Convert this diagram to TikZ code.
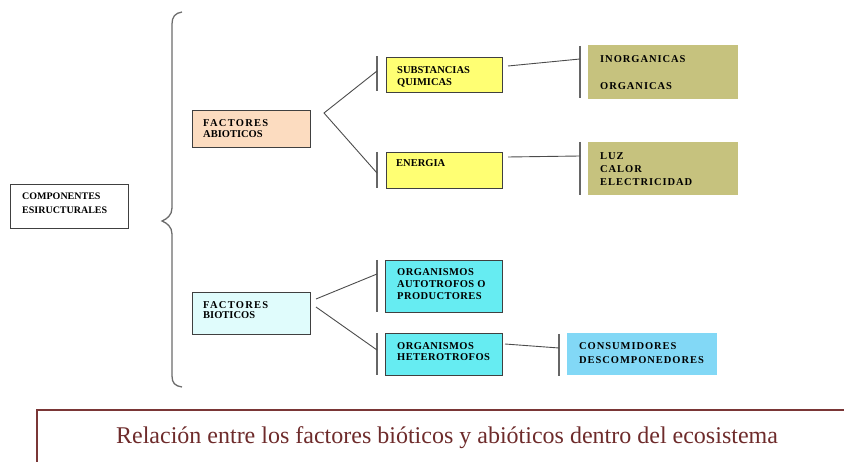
\documentclass[tikz,border=0pt]{standalone}
\usepackage{fontspec}
\setmainfont{Liberation Serif}
\newfontfamily\lsA{Liberation Serif}[LetterSpace=4]
\newfontfamily\lsB{Liberation Serif}[LetterSpace=9]
\newfontfamily\lsC{Liberation Serif}[LetterSpace=12]
\definecolor{boxline}{HTML}{404040}
\definecolor{peach}{HTML}{FCDCC0}
\definecolor{palecyan}{HTML}{E0FCFC}
\definecolor{yel}{HTML}{FFFF73}
\definecolor{cya}{HTML}{66ECF2}
\definecolor{oliv}{HTML}{C6C27E}
\definecolor{sky}{HTML}{82D8F6}
\definecolor{maroon}{HTML}{7A3636}
\definecolor{captxt}{HTML}{6E2B2B}
\tikzset{
  framebox/.style={draw=boxline, line width=1pt, inner sep=0pt, anchor=north west},
  flatbox/.style={draw=none, inner sep=0pt, anchor=north west},
  lbl/.style={anchor=north west, inner sep=0pt, align=left},
  bar/.style={draw=gray!80!black, line width=1.4pt},
  conn/.style={draw=black!70, line width=0.9pt},
  bracestyle/.style={draw=gray!85!black, line width=1.3pt}
}
\begin{document}
\begin{tikzpicture}[x=1pt,y=-1pt]
\useasboundingbox (0,0) rectangle (844,462);
% boxes
\node[framebox, fill=white, minimum width=118pt, minimum height=44pt] (comp) at (10,184) {};
\node[framebox, fill=peach, minimum width=118pt, minimum height=37pt] (abio) at (192,110) {};
\node[framebox, fill=palecyan, minimum width=118pt, minimum height=42pt] (bio) at (192,292) {};
\node[framebox, fill=yel, minimum width=116pt, minimum height=35pt] (subs) at (386,57) {};
\node[framebox, fill=yel, minimum width=116pt, minimum height=36pt] (ener) at (386,152) {};
\node[framebox, fill=cya, minimum width=117pt, minimum height=52pt] (auto) at (385,260) {};
\node[framebox, fill=cya, minimum width=117pt, minimum height=42pt] (hete) at (385,333) {};
\node[flatbox, fill=oliv, minimum width=150pt, minimum height=54pt] (inorg) at (588,45) {};
\node[flatbox, fill=oliv, minimum width=150pt, minimum height=53pt] (luz) at (588,142) {};
\node[flatbox, fill=sky, minimum width=150pt, minimum height=42pt] (cons) at (567,333) {};
% texts
\node[lbl, font=\fontsize{10}{13.5}\selectfont\bfseries] (tcomp) at (22,193) {COMPONENTES\\ESIRUCTURALES};
\node[lbl, font=\fontsize{10.5}{10.8}\selectfont\bfseries] (tabio) at (203,119.5) {{\lsC FACTORES}\\ABIOTICOS};
\node[lbl, font=\fontsize{10.5}{10.5}\selectfont\bfseries] (tbio) at (203,301) {{\lsC FACTORES}\\BIOTICOS};
\node[lbl, font=\fontsize{10.5}{12}\selectfont\bfseries] (tsubs) at (397,66) {SUBSTANCIAS\\QUIMICAS};
\node[lbl, font=\fontsize{10.5}{12}\selectfont\bfseries] (tener) at (396,159.5) {ENERGIA};
\node[lbl, font=\lsB\fontsize{10.5}{26.7}\selectfont\bfseries] (tinorg) at (600,55.5) {INORGANICAS\\ORGANICAS};
\node[lbl, font=\lsB\fontsize{10.5}{13.4}\selectfont\bfseries] (tluz) at (600,152) {LUZ\\CALOR\\ELECTRICIDAD};
\node[lbl, font=\lsA\fontsize{10.5}{12.2}\selectfont\bfseries] (tauto) at (397,268) {ORGANISMOS\\AUTOTROFOS O\\PRODUCTORES};
\node[lbl, font=\lsA\fontsize{10.5}{11.7}\selectfont\bfseries] (thete) at (397,342) {ORGANISMOS\\HETEROTROFOS};
\node[lbl, font=\lsB\fontsize{10.5}{14}\selectfont\bfseries] (tcons) at (579,342.5) {CONSUMIDORES\\DESCOMPONEDORES};
% bars
\coordinate (suT) at (377,56.5); \coordinate (suB) at (377,91);
\coordinate (enT) at (377,152); \coordinate (enB) at (377,188);
\coordinate (auT) at (377,260); \coordinate (auB) at (377,312);
\coordinate (heT) at (377,333); \coordinate (heB) at (377,375);
\coordinate (inT) at (580,46); \coordinate (inB) at (580,98);
\coordinate (luT) at (580,142); \coordinate (luB) at (580,195);
\coordinate (coT) at (559,334); \coordinate (coB) at (559,376);
\draw[bar] (suT) -- (suB);
\draw[bar] (enT) -- (enB);
\draw[bar] (auT) -- (auB);
\draw[bar] (heT) -- (heB);
\draw[bar] (inT) -- (inB);
\draw[bar] (luT) -- (luB);
\draw[bar] (coT) -- (coB);
% connector end points
\coordinate (apexA) at (324,113);
\coordinate (suIn) at (377,71);
\coordinate (enIn) at (377,173);
\coordinate (bioOut1) at (316,299);
\coordinate (bioOut2) at (316,307);
\coordinate (auIn) at (377,274);
\coordinate (heIn) at (377,350);
\coordinate (suOut) at (508,66);
\coordinate (inIn) at (580,59);
\coordinate (enOut) at (508,157);
\coordinate (luIn) at (580,156);
\coordinate (heOut) at (505,344);
\coordinate (coIn) at (559,348);
\draw[conn] (suIn) -- (apexA) -- (enIn);
\draw[conn] (bioOut1) -- (auIn);
\draw[conn] (bioOut2) -- (heIn);
\draw[conn] (suOut) -- (inIn);
\draw[conn] (enOut) -- (luIn);
\draw[conn] (heOut) -- (coIn);
% brace
\coordinate (brTop) at (182,12);
\coordinate (brTip) at (162,221);
\coordinate (brBot) at (182,387);
\draw[bracestyle] (brTop) .. controls (175,13) and (172,17) .. (172,24) -- (172,208)
  .. controls (172,215) and (167,219) .. (brTip)
  .. controls (167,223) and (172,227) .. (172,234) -- (172,376)
  .. controls (172,383) and (175,386) .. (brBot);
% caption frame
\coordinate (capBL) at (37,463);
\coordinate (capTL) at (37,410);
\coordinate (capTR) at (845,410);
\draw[draw=maroon, line width=2pt] (capBL) -- (capTL) -- (capTR);
\node[anchor=base, inner sep=0pt, text=captxt, font=\fontsize{24}{28}\selectfont] (caption) at (447,443) {Relación entre los factores bióticos y abióticos dentro del ecosistema};
\end{tikzpicture}
\end{document}
